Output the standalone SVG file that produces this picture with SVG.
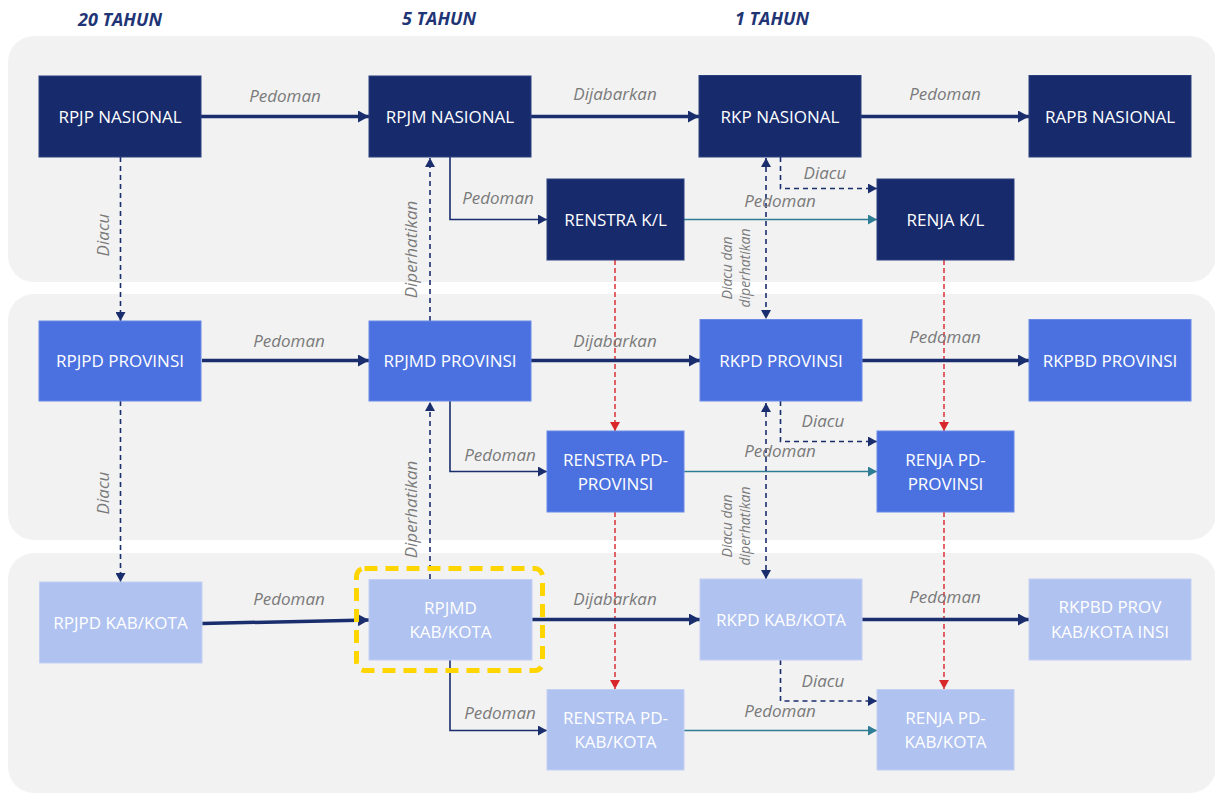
<svg xmlns="http://www.w3.org/2000/svg" width="1215" height="794" viewBox="0 0 1215 794">
<defs>
<style>
.panel{fill:#F2F2F2}
.n1 rect{fill:#162A6C;stroke:#2B3F80;stroke-width:1}
.n2 rect{fill:#4A71DF;stroke:#6A8AE6;stroke-width:1}
.n3 rect{fill:#B0C2F0;stroke:#C3D0F4;stroke-width:1}
.n3 rect.hl{fill:none;stroke:#FFD500;stroke-width:5;stroke-dasharray:13 8}
.nt{font-family:"Open Sans","Noto Sans","Liberation Sans",sans-serif;font-size:17px;fill:#FFFFFF;text-anchor:middle}
.hdr{font-family:"Open Sans","Noto Sans","Liberation Sans",sans-serif;font-size:18px;font-weight:bold;font-style:italic;fill:#1F3576;text-anchor:middle}
.lbl{font-family:"Open Sans","Noto Sans","Liberation Sans",sans-serif;font-size:17px;font-style:italic;fill:#7A7A7A;text-anchor:middle}
.lbs{font-family:"Open Sans","Noto Sans","Liberation Sans",sans-serif;font-size:14px;font-style:italic;fill:#7A7A7A;text-anchor:middle}
.thick{fill:none;stroke:#1A2D6D;stroke-width:3.5;marker-end:url(#ahThick)}
.thin{fill:none;stroke:#1A2D6D;stroke-width:1.6;marker-end:url(#ahNavy)}
.teal{fill:none;stroke:#2E7D95;stroke-width:1.6;marker-end:url(#ahTeal)}
.dash{fill:none;stroke:#1A2D6D;stroke-width:1.6;stroke-dasharray:5 4;marker-end:url(#ahNavy)}
.dash2{fill:none;stroke:#1A2D6D;stroke-width:1.6;stroke-dasharray:5 4;marker-end:url(#ahNavy);marker-start:url(#ahNavyS)}
.red{fill:none;stroke:#D9262B;stroke-width:1.4;stroke-dasharray:5 3;marker-end:url(#ahRed)}
</style>
<marker id="ahThick" markerUnits="userSpaceOnUse" markerWidth="11" markerHeight="12" refX="11" refY="6" orient="auto"><path d="M0,0 L11,6 L0,12 z" fill="#1A2D6D"/></marker>
<marker id="ahNavy" markerUnits="userSpaceOnUse" markerWidth="9" markerHeight="10" refX="9" refY="5" orient="auto"><path d="M0,0 L9,5 L0,10 z" fill="#1A2D6D"/></marker>
<marker id="ahNavyS" markerUnits="userSpaceOnUse" markerWidth="9" markerHeight="10" refX="9" refY="5" orient="auto-start-reverse"><path d="M0,0 L9,5 L0,10 z" fill="#1A2D6D"/></marker>
<marker id="ahTeal" markerUnits="userSpaceOnUse" markerWidth="9" markerHeight="10" refX="9" refY="5" orient="auto"><path d="M0,0 L9,5 L0,10 z" fill="#2E7D95"/></marker>
<marker id="ahRed" markerUnits="userSpaceOnUse" markerWidth="9" markerHeight="10" refX="9" refY="5" orient="auto"><path d="M0,0 L9,5 L0,10 z" fill="#D9262B"/></marker>
</defs>
<rect width="1215" height="794" fill="#FFFFFF"/>
<g id="panels">
<rect class="panel" x="8" y="36" width="1208" height="246" rx="26"/>
<rect class="panel" x="8" y="294" width="1208" height="246" rx="26"/>
<rect class="panel" x="8" y="553" width="1208" height="240" rx="26"/>
</g>
<g id="headers">
<text class="hdr" x="120" y="26">20 TAHUN</text>
<text class="hdr" x="439" y="25">5 TAHUN</text>
<text class="hdr" x="772" y="25">1 TAHUN</text>
</g>
<g id="connectors">
<line class="thick" x1="201" y1="116.5" x2="369" y2="116.5"/>
<line class="thick" x1="531" y1="116.5" x2="699" y2="116.5"/>
<line class="thick" x1="861" y1="116.5" x2="1029" y2="116.5"/>
<polyline class="thin" points="450,157 450,219.5 547,219.5"/>
<line class="teal" x1="684" y1="219.5" x2="877" y2="219.5"/>
<polyline class="dash" points="780.5,157 780.5,188.5 877,188.5"/>
<line class="dash" x1="120.5" y1="157" x2="120.5" y2="321"/>
<line class="dash" x1="430" y1="321" x2="430" y2="158"/>
<line class="dash2" x1="766" y1="158" x2="766" y2="319"/>
<line class="red" x1="615" y1="260" x2="615" y2="431"/>
<line class="red" x1="944" y1="260" x2="944" y2="431"/>
<line class="thick" x1="202" y1="360.5" x2="369" y2="360.5"/>
<line class="thick" x1="531" y1="360.5" x2="700" y2="360.5"/>
<line class="thick" x1="862" y1="360.5" x2="1029" y2="360.5"/>
<polyline class="thin" points="450,401 450,471.5 547,471.5"/>
<line class="teal" x1="684" y1="471.5" x2="877" y2="471.5"/>
<polyline class="dash" points="780.5,401 780.5,441.5 877,441.5"/>
<line class="dash" x1="120.5" y1="401" x2="120.5" y2="582"/>
<line class="dash" x1="430" y1="579" x2="430" y2="402"/>
<line class="dash2" x1="766" y1="403" x2="766" y2="579"/>
<line class="red" x1="615" y1="512" x2="615" y2="689"/>
<line class="red" x1="944" y1="512" x2="944" y2="689"/>
<line class="thick" x1="202" y1="623.5" x2="369" y2="620"/>
<line class="thick" x1="532" y1="619.5" x2="700" y2="619.5"/>
<line class="thick" x1="862" y1="619.5" x2="1029" y2="619.5"/>
<polyline class="thin" points="450,660 450,730.5 547,730.5"/>
<line class="teal" x1="684" y1="730.5" x2="877" y2="730.5"/>
<polyline class="dash" points="780.5,660 780.5,701 877,701"/>
</g>
<g id="labels">
<text class="lbl" x="285" y="102">Pedoman</text>
<text class="lbl" x="615" y="100">Dijabarkan</text>
<text class="lbl" x="945" y="100">Pedoman</text>
<text class="lbl" x="498" y="204">Pedoman</text>
<text class="lbl" x="780" y="207">Pedoman</text>
<text class="lbl" x="825" y="179">Diacu</text>
<text class="lbl" transform="translate(109,235) rotate(-90)">Diacu</text>
<text class="lbl" transform="translate(417,249.5) rotate(-90)">Diperhatikan</text>
<text class="lbs" transform="translate(732,268) rotate(-90)">Diacu dan</text>
<text class="lbs" transform="translate(750,268) rotate(-90)">diperhatikan</text>
<text class="lbl" x="289" y="347">Pedoman</text>
<text class="lbl" x="615" y="347">Dijabarkan</text>
<text class="lbl" x="945" y="343">Pedoman</text>
<text class="lbl" x="500" y="461">Pedoman</text>
<text class="lbl" x="780" y="457">Pedoman</text>
<text class="lbl" x="823" y="427">Diacu</text>
<text class="lbl" transform="translate(109,493) rotate(-90)">Diacu</text>
<text class="lbl" transform="translate(417,509.5) rotate(-90)">Diperhatikan</text>
<text class="lbs" transform="translate(732,526) rotate(-90)">Diacu dan</text>
<text class="lbs" transform="translate(750,526) rotate(-90)">diperhatikan</text>
<text class="lbl" x="289" y="605">Pedoman</text>
<text class="lbl" x="615" y="605">Dijabarkan</text>
<text class="lbl" x="945" y="603">Pedoman</text>
<text class="lbl" x="500" y="719">Pedoman</text>
<text class="lbl" x="780" y="717">Pedoman</text>
<text class="lbl" x="823" y="687">Diacu</text>
</g>
<g id="rpjp-nasional" class="n1"><rect x="39" y="76" width="162" height="81"/><text class="nt" x="120" y="122.5">RPJP NASIONAL</text></g>
<g id="rpjm-nasional" class="n1"><rect x="369" y="76" width="162" height="81"/><text class="nt" x="450" y="122.5">RPJM NASIONAL</text></g>
<g id="rkp-nasional" class="n1"><rect x="699" y="75.5" width="162" height="81.5"/><text class="nt" x="780" y="122.5">RKP NASIONAL</text></g>
<g id="rapb-nasional" class="n1"><rect x="1029" y="75.5" width="162" height="81.5"/><text class="nt" x="1110" y="122.5">RAPB NASIONAL</text></g>
<g id="renstra-kl" class="n1"><rect x="547" y="179" width="137" height="81"/><text class="nt" x="615.5" y="225.5">RENSTRA K/L</text></g>
<g id="renja-kl" class="n1"><rect x="877" y="179" width="137" height="81"/><text class="nt" x="945.5" y="225.5">RENJA K/L</text></g>
<g id="rpjpd-provinsi" class="n2"><rect x="39" y="321" width="162" height="80"/><text class="nt" x="120" y="367">RPJPD PROVINSI</text></g>
<g id="rpjmd-provinsi" class="n2"><rect x="369" y="321" width="162" height="80"/><text class="nt" x="450" y="367">RPJMD PROVINSI</text></g>
<g id="rkpd-provinsi" class="n2"><rect x="700" y="319.5" width="162" height="81.5"/><text class="nt" x="781" y="367">RKPD PROVINSI</text></g>
<g id="rkpbd-provinsi" class="n2"><rect x="1029" y="319.5" width="162" height="81.5"/><text class="nt" x="1110" y="367">RKPBD PROVINSI</text></g>
<g id="renstra-pd-provinsi" class="n2"><rect x="547" y="431" width="137" height="81"/><text class="nt" x="615.5" y="466">RENSTRA PD-</text><text class="nt" x="615.5" y="490">PROVINSI</text></g>
<g id="renja-pd-provinsi" class="n2"><rect x="877" y="431" width="137" height="81"/><text class="nt" x="945.5" y="466">RENJA PD-</text><text class="nt" x="945.5" y="490">PROVINSI</text></g>
<g id="rpjpd-kabkota" class="n3"><rect x="39.5" y="582" width="162.5" height="81"/><text class="nt" x="120.5" y="629">RPJPD KAB/KOTA</text></g>
<g id="rpjmd-kabkota" class="n3"><rect x="369" y="579.5" width="163" height="80.5"/><text class="nt" x="450.5" y="614">RPJMD</text><text class="nt" x="450.5" y="638">KAB/KOTA</text><rect class="hl" x="356.5" y="568.5" width="186" height="102" rx="8"/></g>
<g id="rkpd-kabkota" class="n3"><rect x="700" y="579" width="162" height="81"/><text class="nt" x="781" y="626">RKPD KAB/KOTA</text></g>
<g id="rkpbd-kabkota" class="n3"><rect x="1029" y="579" width="162" height="81"/><text class="nt" x="1110" y="613">RKPBD PROV</text><text class="nt" x="1110" y="638">KAB/KOTA INSI</text></g>
<g id="renstra-pd-kabkota" class="n3"><rect x="547" y="689.5" width="137" height="80.5"/><text class="nt" x="615.5" y="724">RENSTRA PD-</text><text class="nt" x="615.5" y="748">KAB/KOTA</text></g>
<g id="renja-pd-kabkota" class="n3"><rect x="877" y="689.5" width="137" height="80.5"/><text class="nt" x="945.5" y="724">RENJA PD-</text><text class="nt" x="945.5" y="748">KAB/KOTA</text></g>
</svg>
